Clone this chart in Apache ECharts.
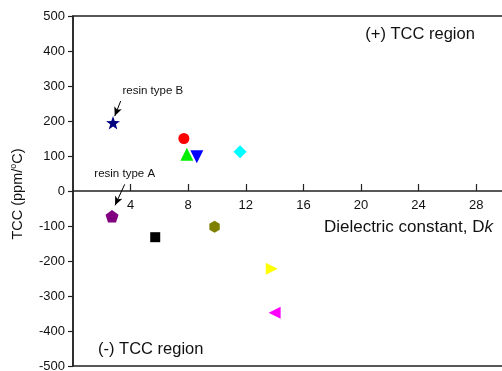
<!DOCTYPE html>
<html>
<head>
<meta charset="utf-8">
<script src="https://cdn.jsdelivr.net/npm/echarts@6/dist/echarts.min.js"></script>
<style>
  html, body { margin: 0; padding: 0; background: #fff; }
  #chart { width: 502px; height: 371px; }
</style>
</head>
<body>
<div id="chart"></div>
<script>
// Dielectric constant (Dk) and temperature coefficient of capacitance (TCC, ppm/°C)
var materials = ['resin type B', 'M1', 'M2', 'M3', 'M4', 'resin type A', 'M5', 'M6', 'M7', 'M8'];
var dkValues  = [2.78, 7.70, 7.91, 8.60, 11.6, 2.71, 5.71, 9.83, 13.8, 14.0];
var tccValues = [195, 150, 105, 98, 112, -72, -132, -102, -222, -348];

// Axis ticks
var xTicks = [4, 8, 12, 16, 20, 24, 28];
var yTicks = [-500, -400, -300, -200, -100, 0, 100, 200, 300, 400, 500];

// Marker styles, one per material
var starPath = 'path://M0,-10L2.35,-3.24L9.51,-3.09L3.8,1.24L5.88,8.09L0,4L-5.88,8.09L-3.8,1.24L-9.51,-3.09L-2.35,-3.24Z';
var pentagonPath = 'path://M0,-10L9.51,-3.09L5.88,8.09L-5.88,8.09L-9.51,-3.09Z';
var hexagonPath = 'path://M0,-10L8.66,-5L8.66,5L0,10L-8.66,5L-8.66,-5Z';
var markerSymbols = [starPath, 'circle', 'triangle', 'triangle', 'diamond', pentagonPath, 'rect', hexagonPath, 'triangle', 'triangle'];
var markerRotate  = [0, 0, 0, 180, 0, 0, 0, 0, -90, 90];
var markerSizes   = [14, 11, 13, 13, 13, 13, 10, 12, 12, 12];
var markerColors  = ['#000080', '#ff0000', '#00ee00', '#0000ff', '#00ffff', '#800080', '#000000', '#808000', '#ffff00', '#ff00ff'];

// Annotations (data coordinates)
var noteTexts  = ['resin type B', 'resin type A'];
var notePos    = [[5.54, 286], [3.59, 50]];
var arrowFrom  = [[3.31, 257], [3.59, 19]];
var arrowTo    = [[2.90, 214], [2.92, -41]];
var regionTexts = ['(+) TCC region', '(-) TCC region'];
var regionPos   = [[24.1, 447], [5.4, -453]];

var font = 'Arial, "Liberation Sans", Helvetica, sans-serif';
var axisColor = '#222';

var series = materials.map(function (name, i) {
  return {
    name: name,
    type: 'scatter',
    symbol: markerSymbols[i],
    symbolRotate: markerRotate[i],
    symbolSize: markerSizes[i],
    symbolKeepAspect: true,
    itemStyle: { color: markerColors[i], opacity: 1 },
    data: [[dkValues[i], tccValues[i]]],
    z: 3
  };
});

// Arrows and text notes
series.push({
  name: 'notes',
  type: 'scatter',
  data: [],
  silent: true,
  markLine: {
    silent: true,
    symbol: ['none', 'arrow'],
    symbolSize: [6, 9],
    label: { show: false },
    lineStyle: { color: '#000', width: 1, type: 'solid' },
    data: arrowFrom.map(function (p, i) {
      return [{ coord: p }, { coord: arrowTo[i] }];
    })
  },
  markPoint: {
    silent: true,
    symbol: 'circle',
    symbolSize: 1,
    itemStyle: { color: 'transparent' },
    data: noteTexts.map(function (t, i) {
      return {
        coord: notePos[i],
        label: { show: true, position: 'inside', formatter: t, color: '#111', fontSize: 11.5, fontFamily: font }
      };
    }).concat(regionTexts.map(function (t, i) {
      return {
        coord: regionPos[i],
        label: { show: true, position: 'inside', formatter: t, color: '#111', fontSize: 16.5, fontFamily: font }
      };
    }))
  }
});

var chart = echarts.init(document.getElementById('chart'), null, { renderer: 'canvas' });
chart.setOption({
  animation: false,
  backgroundColor: '#fff',
  grid: {
    left: 73, right: -3, top: 16, bottom: 5,
    outerBoundsMode: 'none',
    containLabel: false,
    show: true, borderColor: axisColor, borderWidth: 1.5, backgroundColor: 'transparent'
  },
  xAxis: {
    type: 'value',
    position: 'bottom',
    // lift the axis from the grid bottom to the TCC = 0 line
    offset: -175,
    min: 0, max: 30, interval: 4,
    name: 'Dielectric constant, D{k|k}',
    nameLocation: 'end',
    nameGap: -12,
    nameTextStyle: {
      fontFamily: font, fontSize: 17, color: '#111',
      align: 'right', verticalAlign: 'top', padding: [28, 0, 0, 0],
      rich: { k: { fontStyle: 'italic', fontFamily: font, fontSize: 17, color: '#111' } }
    },
    axisLine: { onZero: false, lineStyle: { color: axisColor, width: 1.5 } },
    axisTick: { inside: true, length: 7, lineStyle: { color: axisColor, width: 1.2 } },
    axisLabel: {
      margin: 8, fontSize: 13, fontFamily: font, color: '#111',
      showMinLabel: false, showMaxLabel: false,
      formatter: function (v) { return xTicks.indexOf(v) >= 0 ? String(v) : ''; }
    },
    splitLine: { show: false }
  },
  yAxis: {
    type: 'value',
    min: -500, max: 500, interval: 100,
    name: 'TCC (ppm/{s|o}C)',
    nameLocation: 'middle',
    nameRotate: 90,
    nameGap: 47,
    nameTextStyle: {
      fontFamily: font, fontSize: 14.5, color: '#111', padding: [0, 6, 0, 0],
      rich: { s: { fontFamily: font, fontSize: 9, color: '#111', padding: [0, 0, 8, 0] } }
    },
    axisLine: { onZero: false, lineStyle: { color: axisColor, width: 1.5 } },
    axisTick: { inside: false, length: 5, lineStyle: { color: axisColor, width: 1.2 } },
    axisLabel: {
      margin: 8, fontSize: 13, fontFamily: font, color: '#111',
      formatter: function (v) { return yTicks.indexOf(v) >= 0 ? String(v) : ''; }
    },
    splitLine: { show: false }
  },
  series: series
});
</script>
</body>
</html>
